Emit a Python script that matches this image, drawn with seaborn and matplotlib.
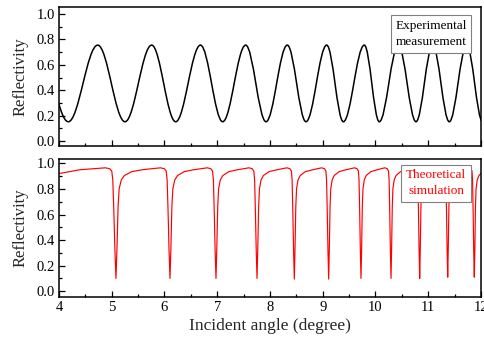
"""Reflectivity versus incident angle: measurement against simulation."""

import matplotlib
matplotlib.use("Agg")
import matplotlib.pyplot as plt
import pandas as pd
import seaborn as sns
from matplotlib.patches import PathPatch
from matplotlib.path import Path
from matplotlib.ticker import MultipleLocator


# experimental curve: turning points (max / min)
EXP_ANGLES = [3.62, 4.176, 4.734, 5.251, 5.757, 6.212, 6.682, 7.103, 7.539,
              7.924, 8.328, 8.682, 9.075, 9.390, 9.788, 10.072, 10.432,
              10.768, 11.084, 11.399, 11.729, 12.03]
EXP_VALUES = [0.75, 0.152, 0.755, 0.152, 0.755, 0.152, 0.755, 0.152, 0.755,
              0.152, 0.755, 0.152, 0.755, 0.152, 0.755, 0.152, 0.755,
              0.152, 0.755, 0.152, 0.755, 0.152]

# simulated curve: resonance dips
SIM_START_ANGLES = [4.0, 4.4]
SIM_START_VALUES = [0.92, 0.95]
DIP_ANGLES = [5.08, 6.104, 6.976, 7.754, 8.461, 9.112, 9.725, 10.294,
              10.838, 11.369, 11.873]
DIP_MINS = [0.10, 0.10, 0.10, 0.10, 0.095, 0.095, 0.10, 0.10, 0.10, 0.11, 0.11]
DIP_WIDTHS = [1.0, 0.9, 0.82, 0.76, 0.7, 0.66, 0.62, 0.6, 0.58, 0.56, 0.55]
# profile of one dip (offset from centre in degree, reflectivity), None = dip floor
DIP_OFFSETS = [-0.20, -0.12, -0.08, -0.06, -0.04, -0.02, 0.0, 0.02, 0.04,
               0.06, 0.10, 0.16, 0.30, 0.50]
DIP_LEVELS = [0.965, 0.958, 0.94, 0.87, 0.62, 0.32, None, 0.35, 0.66,
              0.80, 0.87, 0.905, 0.935, 0.95]

SERIF = ["Liberation Serif", "DejaVu Serif"]


def simulated_frame():
    angles = list(SIM_START_ANGLES)
    values = list(SIM_START_VALUES)
    for centre, floor, width in zip(DIP_ANGLES, DIP_MINS, DIP_WIDTHS):
        for off, level in zip(DIP_OFFSETS, DIP_LEVELS):
            angles.append(centre + off * width)
            values.append(floor if level is None else level)
    return pd.DataFrame({"angle": angles, "reflectivity": values})


def experimental_path():
    """Smooth path through the turning points (horizontal tangents there)."""
    verts = [(EXP_ANGLES[0], EXP_VALUES[0])]
    codes = [Path.MOVETO]
    for i in range(len(EXP_ANGLES) - 1):
        x0, y0 = EXP_ANGLES[i], EXP_VALUES[i]
        x1, y1 = EXP_ANGLES[i + 1], EXP_VALUES[i + 1]
        d = 0.364 * (x1 - x0)
        verts += [(x0 + d, y0), (x1 - d, y1), (x1, y1)]
        codes += [Path.CURVE4] * 3
    return Path(verts, codes)


def style_axis(ax, ylim):
    ax.set_xlim(4, 12)
    ax.set_ylim(*ylim)
    ax.xaxis.set_major_locator(MultipleLocator(1))
    ax.xaxis.set_minor_locator(MultipleLocator(0.5))
    ax.yaxis.set_major_locator(MultipleLocator(0.2))
    ax.yaxis.set_minor_locator(MultipleLocator(0.1))
    ax.yaxis.set_major_formatter(lambda v, pos: f"{v:.1f}")
    ax.tick_params(which="both", direction="in", top=False, right=False,
                   width=0.9, labelsize=10.5, pad=3, colors="black")
    ax.tick_params(which="major", length=4)
    ax.tick_params(which="minor", length=2.2)
    for spine in ax.spines.values():
        spine.set_visible(True)
        spine.set_linewidth(1.1)
        spine.set_color("black")
    ax.set_ylabel("Reflectivity", fontsize=12, labelpad=6)


sns.set_style("ticks")
plt.rcParams["font.family"] = SERIF

fig = plt.figure(figsize=(4.84, 3.46), dpi=100)
ax_top = fig.add_axes([0.1219, 0.578, 0.8719, 0.4018])
ax_bot = fig.add_axes([0.1219, 0.1416, 0.8719, 0.3989])

ax_top.add_patch(PathPatch(experimental_path(), fill=False,
                           edgecolor="black", linewidth=1.1))
style_axis(ax_top, (-0.039, 1.055))
ax_top.tick_params(labelbottom=False)
ax_top.set_xlabel("")
ax_top.text(0.8815, 0.806, "Experimental\nmeasurement", transform=ax_top.transAxes,
            ha="center", va="center", fontsize=9.5, color="black", linespacing=1.45,
            bbox=dict(boxstyle="square,pad=0.35", fc="white", ec="#808080", lw=0.8))

sns.lineplot(data=simulated_frame(), x="angle", y="reflectivity", ax=ax_bot,
             color="#ff0000", linewidth=0.85, sort=False, estimator=None)
style_axis(ax_bot, (-0.045, 1.034))
ax_bot.set_xlabel("Incident angle (degree)", fontsize=12.5, labelpad=3)
ax_bot.xaxis.set_major_formatter(lambda v, pos: f"{v:.0f}")
ax_bot.text(0.8934, 0.824, "Theoretical\nsimulation", transform=ax_bot.transAxes,
            ha="center", va="center", fontsize=9.5, color="#ff0000", linespacing=1.45,
            bbox=dict(boxstyle="square,pad=0.35", fc="white", ec="#808080", lw=0.8))

fig.savefig("out.png", dpi=100)
